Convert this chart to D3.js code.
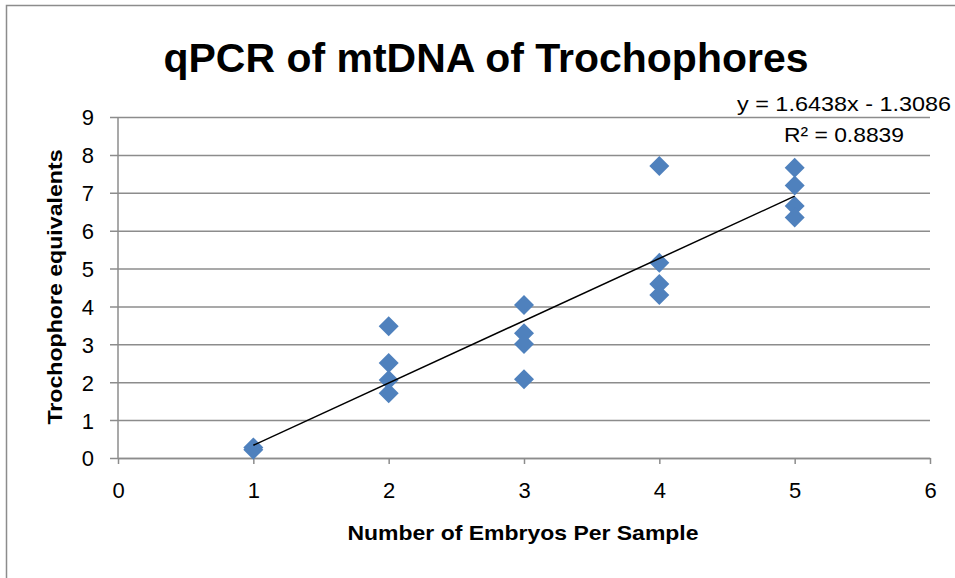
<!DOCTYPE html>
<html>
<head>
<meta charset="utf-8">
<script src="https://cdn.jsdelivr.net/npm/d3@7"></script>
<style>
  body { margin: 0; background: #fff; }
  text { font-family: "Liberation Sans", Arial, sans-serif; fill: #000; }
</style>
</head>
<body>
<div id="chart"></div>
<script>
// data
let embryos = [1, 1, 2, 2, 2, 2, 3, 3, 3, 3, 4, 4, 4, 4, 5, 5, 5, 5];
let equivalents = [0.28, 0.22, 3.48, 2.51, 2.06, 1.71, 4.04, 3.29, 3.01, 2.08, 7.71, 5.15, 4.59, 4.30, 7.66, 7.19, 6.65, 6.35];
let xTicks = [0, 1, 2, 3, 4, 5, 6];
let yTicks = [0, 1, 2, 3, 4, 5, 6, 7, 8, 9];
let trendSlope = 1.6438,
    trendIntercept = -1.3086,
    trendR2 = 0.8839;

let width = 955,
    height = 578,
    margin = {left: 118, top: 117, right: 25, bottom: 120},
    plotWidth = 930 - margin.left,
    plotHeight = 458 - margin.top;

let points = embryos.map((x, i) => ({x: x, y: equivalents[i]}));

let svg = d3.select('#chart').append('svg')
    .attr('width', width)
    .attr('height', height);

// chart frame (runs off the right and bottom edges)
svg.append('rect')
    .attr('x', 6.5)
    .attr('y', 5.5)
    .attr('width', 1000)
    .attr('height', 1000)
    .attr('fill', 'none')
    .attr('stroke', '#8c8c8c')
    .attr('stroke-width', 1.5);

let g = svg.append('g')
    .attr('transform', `translate(${margin.left}, ${margin.top})`);

let xScale = d3.scaleLinear()
    .domain([0, 6])
    .range([0, plotWidth]);

let yScale = d3.scaleLinear()
    .domain([0, 9])
    .range([plotHeight, 0]);

// horizontal gridlines + y ticks
let yAxis = d3.axisLeft(yScale)
    .tickValues(yTicks)
    .tickSize(-plotWidth)
    .tickSizeOuter(0)
    .tickFormat(d3.format('d'));

let yg = g.append('g').call(yAxis);
yg.select('.domain').remove();
yg.selectAll('.tick line')
    .attr('x1', -8)
    .attr('stroke', '#8c8c8c')
    .attr('stroke-width', 1.5);
yg.selectAll('.tick text')
    .style('font-size', '22px')
    .attr('x', -24)
    .attr('dy', '0.36em');

g.append('line')
    .attr('x1', 0).attr('x2', 0)
    .attr('y1', 0).attr('y2', plotHeight)
    .attr('stroke', '#8c8c8c')
    .attr('stroke-width', 1.5);

// x axis
let xAxis = d3.axisBottom(xScale)
    .tickValues(xTicks)
    .tickSize(6)
    .tickSizeOuter(0)
    .tickPadding(18)
    .tickFormat(d3.format('d'));

let xg = g.append('g')
    .attr('transform', `translate(0, ${plotHeight})`)
    .call(xAxis);
xg.select('.domain')
    .attr('stroke', '#8c8c8c')
    .attr('stroke-width', 1.5);
xg.selectAll('.tick line')
    .attr('stroke', '#8c8c8c')
    .attr('stroke-width', 1.5);
xg.selectAll('.tick text')
    .style('font-size', '22px');

// markers
g.append('g')
    .selectAll('path')
    .data(points)
    .join('path')
    .attr('d', d3.symbol().type(d3.symbolSquare).size(200))
    .attr('transform', d => `translate(${xScale(d.x)}, ${yScale(d.y)}) rotate(45)`)
    .attr('fill', '#4f81bd');

// linear trendline
let trendX = d3.extent(embryos);
g.append('line')
    .attr('x1', xScale(trendX[0]))
    .attr('y1', yScale(trendSlope * trendX[0] + trendIntercept))
    .attr('x2', xScale(trendX[1]))
    .attr('y2', yScale(trendSlope * trendX[1] + trendIntercept))
    .attr('stroke', '#000')
    .attr('stroke-width', 1.5);

// trendline label
svg.append('text')
    .attr('x', 844)
    .attr('y', 111)
    .attr('text-anchor', 'middle')
    .attr('textLength', 214)
    .attr('lengthAdjust', 'spacingAndGlyphs')
    .style('font-size', '21px')
    .text(`y = ${trendSlope}x - ${Math.abs(trendIntercept)}`);

svg.append('text')
    .attr('x', 844)
    .attr('y', 142)
    .attr('text-anchor', 'middle')
    .attr('textLength', 120)
    .attr('lengthAdjust', 'spacingAndGlyphs')
    .style('font-size', '21px')
    .text(`R² = ${trendR2}`);

// titles
svg.append('text')
    .attr('x', 486)
    .attr('y', 72)
    .attr('text-anchor', 'middle')
    .attr('textLength', 645)
    .attr('lengthAdjust', 'spacingAndGlyphs')
    .style('font-size', '41px')
    .style('font-weight', 'bold')
    .text('qPCR of mtDNA of Trochophores');

svg.append('text')
    .attr('x', 523)
    .attr('y', 540)
    .attr('text-anchor', 'middle')
    .attr('textLength', 351)
    .attr('lengthAdjust', 'spacingAndGlyphs')
    .style('font-size', '21px')
    .style('font-weight', 'bold')
    .text('Number of Embryos Per Sample');

svg.append('text')
    .attr('transform', 'translate(62, 287) rotate(-90)')
    .attr('text-anchor', 'middle')
    .attr('textLength', 275)
    .attr('lengthAdjust', 'spacingAndGlyphs')
    .style('font-size', '21px')
    .style('font-weight', 'bold')
    .text('Trochophore equivalents');
</script>
</body>
</html>
